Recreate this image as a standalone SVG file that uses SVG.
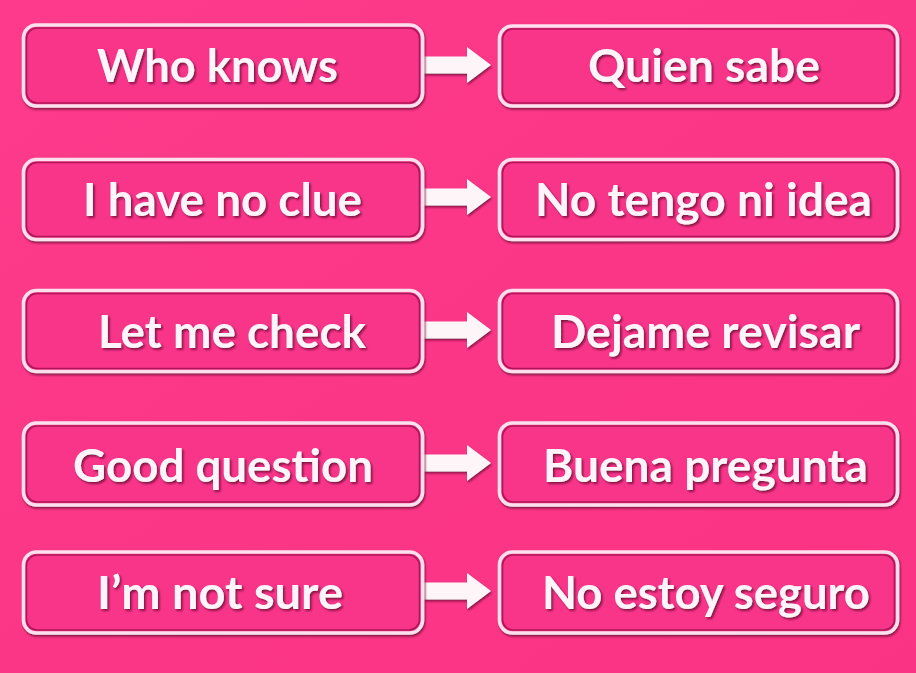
<svg xmlns="http://www.w3.org/2000/svg" width="916" height="673" viewBox="0 0 916 673">
  <defs>
    <linearGradient id="bg" x1="0" y1="0" x2="1" y2="1">
      <stop offset="0" stop-color="#fd3a8b"/>
      <stop offset="1" stop-color="#fb3384"/>
    </linearGradient>
    <filter id="txtShadow" x="-10%" y="-30%" width="120%" height="160%">
      <feDropShadow dx="1.6" dy="1.8" stdDeviation="0.8" flood-color="#6e0a34" flood-opacity="0.9"/>
    </filter>
    <filter id="boxShadow" x="-5%" y="-20%" width="110%" height="140%">
      <feDropShadow dx="1" dy="1.8" stdDeviation="0.9" flood-color="#6e0a34" flood-opacity="0.85"/>
    </filter>
    <path id="arrow" d="M424,-8.5 H467 V-18 L491,0 L467,18 V8.5 H424 Z"/>
    <style>
      .frame { fill: #f9348a; stroke: #fde0ee; stroke-width: 3.6; filter: url(#boxShadow); }
      .inner { fill: none; stroke: #9c0f4a; stroke-width: 1.6; opacity: 0.8; }
      .lbl { font-family: Lato, "Open Sans", "Liberation Sans", sans-serif; font-weight: 700; font-size: 46px; fill: #fff4fa; text-anchor: middle; filter: url(#txtShadow); }
      .arr { fill: #fef5f9; filter: url(#boxShadow); }
    </style>
  </defs>
  <rect x="0" y="0" width="916" height="673" fill="url(#bg)"/>

  <g id="connectors">
    <use href="#arrow" class="arr" transform="translate(0,65)"/>
    <use href="#arrow" class="arr" transform="translate(0,197)"/>
    <use href="#arrow" class="arr" transform="translate(0,330)"/>
    <use href="#arrow" class="arr" transform="translate(0,463)"/>
    <use href="#arrow" class="arr" transform="translate(0,591)"/>
  </g>

  <g id="node-who-knows">
    <rect class="frame" x="23.5" y="25" width="399" height="81" rx="13"/>
    <rect class="inner" x="26.5" y="28" width="393" height="75" rx="10.5"/>
    <text class="lbl" x="217.5" y="82" textLength="241" lengthAdjust="spacingAndGlyphs">Who knows</text>
  </g>
  <g id="node-quien-sabe">
    <rect class="frame" x="499.5" y="26" width="398" height="80" rx="13"/>
    <rect class="inner" x="502.5" y="29" width="392" height="74" rx="10.5"/>
    <text class="lbl" x="704" y="82" textLength="232" lengthAdjust="spacingAndGlyphs">Quien sabe</text>
  </g>

  <g id="node-i-have-no-clue">
    <rect class="frame" x="23.5" y="159.5" width="399" height="80" rx="13"/>
    <rect class="inner" x="26.5" y="162.5" width="393" height="74" rx="10.5"/>
    <text class="lbl" x="222.5" y="216" textLength="279" lengthAdjust="spacingAndGlyphs">I have no clue</text>
  </g>
  <g id="node-no-tengo-ni-idea">
    <rect class="frame" x="499.5" y="159.5" width="398" height="80" rx="13"/>
    <rect class="inner" x="502.5" y="162.5" width="392" height="74" rx="10.5"/>
    <text class="lbl" x="703.5" y="216" textLength="337" lengthAdjust="spacingAndGlyphs">No tengo ni idea</text>
  </g>

  <g id="node-let-me-check">
    <rect class="frame" x="23.5" y="290.5" width="399" height="81" rx="13"/>
    <rect class="inner" x="26.5" y="293.5" width="393" height="75" rx="10.5"/>
    <text class="lbl" x="232" y="348" textLength="268" lengthAdjust="spacingAndGlyphs">Let me check</text>
  </g>
  <g id="node-dejame-revisar">
    <rect class="frame" x="499.5" y="290.5" width="398" height="81" rx="13"/>
    <rect class="inner" x="502.5" y="293.5" width="392" height="75" rx="10.5"/>
    <text class="lbl" x="705.5" y="348" textLength="309" lengthAdjust="spacingAndGlyphs">Dejame revisar</text>
  </g>

  <g id="node-good-question">
    <rect class="frame" x="23.5" y="423" width="399" height="82" rx="13"/>
    <rect class="inner" x="26.5" y="426" width="393" height="76" rx="10.5"/>
    <text class="lbl" x="223" y="482" textLength="300" lengthAdjust="spacingAndGlyphs">Good question</text>
  </g>
  <g id="node-buena-pregunta">
    <rect class="frame" x="499.5" y="423" width="398" height="82" rx="13"/>
    <rect class="inner" x="502.5" y="426" width="392" height="76" rx="10.5"/>
    <text class="lbl" x="705.5" y="482" textLength="325" lengthAdjust="spacingAndGlyphs">Buena pregunta</text>
  </g>

  <g id="node-im-not-sure">
    <rect class="frame" x="23.5" y="552" width="399" height="81" rx="13"/>
    <rect class="inner" x="26.5" y="555" width="393" height="75" rx="10.5"/>
    <text class="lbl" x="220" y="609" textLength="246" lengthAdjust="spacingAndGlyphs">I’m not sure</text>
  </g>
  <g id="node-no-estoy-seguro">
    <rect class="frame" x="499.5" y="552" width="398" height="81" rx="13"/>
    <rect class="inner" x="502.5" y="555" width="392" height="75" rx="10.5"/>
    <text class="lbl" x="706" y="609" textLength="328" lengthAdjust="spacingAndGlyphs">No estoy seguro</text>
  </g>
</svg>
